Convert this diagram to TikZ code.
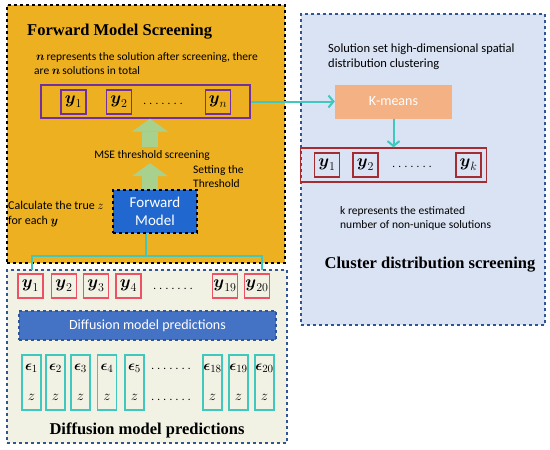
\documentclass[tikz,border=0pt]{standalone}
\usepackage{fontspec,amsmath}
\setmainfont{Carlito}
\newfontfamily\titlefont{Liberation Serif}
\usetikzlibrary{arrows.meta,positioning}
\definecolor{orangeP}{RGB}{237,176,33}
\definecolor{blueP}{RGB}{218,227,243}
\definecolor{beigeP}{RGB}{241,241,228}
\definecolor{edgeB}{RGB}{47,85,151}
\definecolor{violetB}{RGB}{112,48,160}
\definecolor{brickB}{RGB}{165,45,50}
\definecolor{roseB}{RGB}{240,80,100}
\definecolor{tealL}{RGB}{64,200,190}
\definecolor{greenA}{RGB}{169,209,142}
\definecolor{peachK}{RGB}{244,177,131}
\definecolor{blueFM}{RGB}{32,104,208}
\definecolor{blueBar}{RGB}{68,114,196}
\tikzset{panel/.style={dashed,line width=1.2pt,inner sep=0pt},ybox/.style={draw,line width=1.3pt,minimum width=25pt,minimum height=24pt,inner sep=1pt,font=\fontsize{17}{19}\selectfont},epsbox/.style={draw=tealL,line width=1.3pt,minimum width=19pt,minimum height=55pt,inner sep=0pt,align=center,font=\fontsize{15}{16}\selectfont},flux/.style={tealL,line width=2pt,-{Straight Barb[length=5pt,width=12pt]}},big/.style={greenA,line width=16pt,-{Triangle[length=13pt,width=36pt,line width=0pt]}},note/.style={font=\fontsize{11.5}{14.5}\selectfont,align=left,inner sep=0pt},heading/.style={font=\titlefont\bfseries\fontsize{16.5}{19}\selectfont,inner sep=0pt},dots/.style={font=\fontsize{11}{13}\selectfont,inner sep=0pt}}

\begin{document}
\begin{tikzpicture}[x=1pt,y=-1pt]
\useasboundingbox (0,0) rectangle (550,450);
\node[panel,draw=black,fill=orangeP,minimum width=278pt,minimum height=258pt] (fwdpanel) at (146,134) {};
\node[panel,draw=edgeB,fill=blueP,minimum width=244pt,minimum height=311pt] (clupanel) at (423,169.5) {};
\node[panel,draw=edgeB,fill=beigeP,minimum width=280pt,minimum height=173pt] (difpanel) at (147,356.5) {};
\node[heading,anchor=west] (fwdtitle) at (27,32) {Forward Model Screening};
\node[note,anchor=north west] (ntext) at (34,52) {\,$\boldsymbol{n}$\,represents the solution after screening, there\\are $\boldsymbol{n}$\,solutions in total};
\node[draw=violetB,line width=1.3pt,minimum width=209pt,minimum height=33pt] (sol) at (145.5,101.5) {};
\node[ybox,draw=violetB] (s1) at (73.5,102) {$\boldsymbol{y}_1$};
\node[ybox,draw=violetB] (s2) at (119,102) {$\boldsymbol{y}_2$};
\node[dots] (sdots) at (163,104) {. . . . . . .};
\node[ybox,draw=violetB] (sn) at (218,102) {$\boldsymbol{y}_n$};
\coordinate (arrx) at (150,0);
\node[note] (mse) at (152,155) {MSE threshold screening};
\node[note,anchor=north west] (thr) at (193,165) {Setting the\\Threshold};
\node[draw=black,dashed,line width=1.2pt,fill=blueFM,text=white,align=center,minimum width=84pt,minimum height=43pt,inner sep=0pt,font=\fontsize{15}{18}\selectfont] (fm) at (155,211.5) {Forward\\Model};
\node[note,anchor=north west,font=\fontsize{12}{15}\selectfont] (calc) at (8,201) {Calculate the true $z$\\ for each $\boldsymbol{y}$};
\draw[big] (fm.north -| arrx) -- ([yshift=-3pt]mse.south -| arrx);
\draw[big] ([yshift=3pt]mse.north -| arrx) -- (sol.south -| arrx);
\node[note,anchor=north west,font=\fontsize{12.5}{15}\selectfont] (soltext) at (328,44) {Solution set high-dimensional spatial\\distribution clustering};
\node[fill=peachK,text=white,minimum width=117pt,minimum height=34pt,font=\fontsize{14}{16}\selectfont] (km) at (393.5,101.5) {K-means};
\node[draw=brickB,line width=1.3pt,minimum width=186pt,minimum height=34pt] (res) at (393.5,165) {};
\node[ybox,draw=brickB] (r1) at (327,165) {$\boldsymbol{y}_1$};
\node[ybox,draw=brickB] (r2) at (365.5,165) {$\boldsymbol{y}_2$};
\node[dots] (rdots) at (412,167) {. . . . . . .};
\node[ybox,draw=brickB] (rk) at (468.5,165) {$\boldsymbol{y}_k$};
\draw[flux] (sol.east) -- (km.west);
\draw[flux] (km.south) -- (res.north);
\node[note,anchor=north west] (ktext) at (340,206) {k represents the estimated\\number of non-unique solutions};
\node[heading] (clutitle) at (430,265) {Cluster distribution screening};
\coordinate (mid) at (146,256);
\coordinate (bl) at (32,270);
\coordinate (br) at (262,270);
\draw[tealL,line width=1.8pt] (mid |- fm.south) -- (mid);
\draw[tealL,line width=1.8pt] (bl) |- (mid) -| (br);
\node[ybox,draw=roseB] (d1) at (30.5,286) {$\boldsymbol{y}_1$};
\node[ybox,draw=roseB] (d2) at (64,286) {$\boldsymbol{y}_2$};
\node[ybox,draw=roseB] (d3) at (96,286) {$\boldsymbol{y}_3$};
\node[ybox,draw=roseB] (d4) at (128.5,286) {$\boldsymbol{y}_4$};
\node[dots] (ddots) at (173,289) {. . . . . . .};
\node[ybox,draw=roseB] (d19) at (225,286) {$\boldsymbol{y}_{19}$};
\node[ybox,draw=roseB] (d20) at (257,286) {$\boldsymbol{y}_{20}$};
\node[draw=edgeB,dashed,line width=1.2pt,fill=blueBar,text=white,minimum width=257pt,minimum height=29pt,font=\fontsize{14}{16}\selectfont] (bar) at (147.5,325.5) {Diffusion model predictions};
\node[epsbox] (e1) at (31.5,382.5) {$\boldsymbol{\epsilon}_1$\\[14pt]$z$};
\node[epsbox] (e2) at (55.5,382.5) {$\boldsymbol{\epsilon}_2$\\[14pt]$z$};
\node[epsbox] (e3) at (80.5,382.5) {$\boldsymbol{\epsilon}_3$\\[14pt]$z$};
\node[epsbox] (e4) at (107,382.5) {$\boldsymbol{\epsilon}_4$\\[14pt]$z$};
\node[epsbox] (e5) at (134.5,382.5) {$\boldsymbol{\epsilon}_5$\\[14pt]$z$};
\node[dots] (edots1) at (171,369) {. . . . . . .};
\node[dots] (edots2) at (171,400) {. . . . . . .};
\node[epsbox] (e18) at (212.5,382.5) {$\boldsymbol{\epsilon}_{18}$\\[14pt]$z$};
\node[epsbox] (e19) at (238.5,382.5) {$\boldsymbol{\epsilon}_{19}$\\[14pt]$z$};
\node[epsbox] (e20) at (264.5,382.5) {$\boldsymbol{\epsilon}_{20}$\\[14pt]$z$};
\node[heading] (diftitle) at (147,430) {Diffusion model predictions};
\end{tikzpicture}
\end{document}
